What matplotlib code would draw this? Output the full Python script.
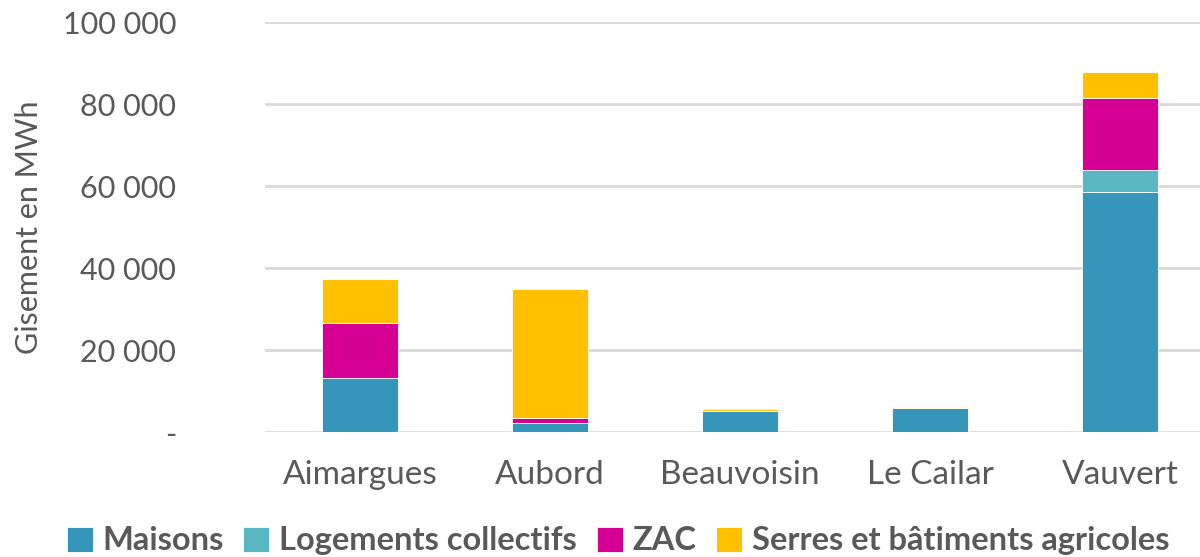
import matplotlib.pyplot as plt
import numpy as np

communes = ["Aimargues", "Aubord", "Beauvoisin", "Le Cailar", "Vauvert"]
maisons = [13200, 2200, 5200, 5850, 58600]
logements = [0, 0, 0, 0, 5300]
zac = [13300, 1300, 0, 0, 17600]
serres = [10800, 31300, 300, 350, 6200]

series = [
    ("Maisons", maisons, "#3595bb"),
    ("Logements collectifs", logements, "#58b7c0"),
    ("ZAC", zac, "#d50093"),
    ("Serres et bâtiments agricoles", serres, "#ffc000"),
]

plt.rcParams['font.family'] = ['Lato', 'DejaVu Sans']
grey = "#595959"

fig = plt.figure(figsize=(12, 5.57), dpi=100)
ax = fig.add_axes([265 / 1200, 125 / 557, 950 / 1200, 410 / 557])

x = np.arange(len(communes))
bottom = np.zeros(len(communes))
for name, vals, col in series:
    ax.bar(x, vals, 0.4, bottom=bottom, color=col, label=name,
           edgecolor="white", linewidth=0.6, zorder=3)
    bottom += np.array(vals)

ax.set_xlim(-0.5, 4.5)
ax.set_ylim(0, 100000)
yt = np.arange(0, 100001, 20000)
ax.set_yticks(yt)
ax.set_yticklabels(["-" if v == 0 else f"{v:,}".replace(",", " ") for v in yt])
ax.set_xticks(x)
ax.set_xticklabels(communes)
ax.tick_params(axis="both", length=0, colors=grey)
ax.tick_params(axis="x", pad=20, labelsize=24)
ax.tick_params(axis="y", pad=64, labelsize=22)
for lab in ax.get_yticklabels():
    lab.set_horizontalalignment("right")
ax.grid(axis="y", color="#d9d9d9", linewidth=2, zorder=0)
for s in ax.spines.values():
    s.set_visible(False)

ax.set_ylabel("Gisement en MWh", fontsize=22, color=grey)
ax.yaxis.set_label_coords(-222 / 950, 0.5)

leg = fig.legend(loc="lower center", bbox_to_anchor=(0.515, -0.05), ncol=4,
                 frameon=False, handlelength=0.8, handleheight=0.8,
                 handletextpad=0.3, columnspacing=0.6,
                 prop={"weight": "bold", "size": 23.5})
for t in leg.get_texts():
    t.set_color(grey)

fig.savefig("out.png", dpi=100)
